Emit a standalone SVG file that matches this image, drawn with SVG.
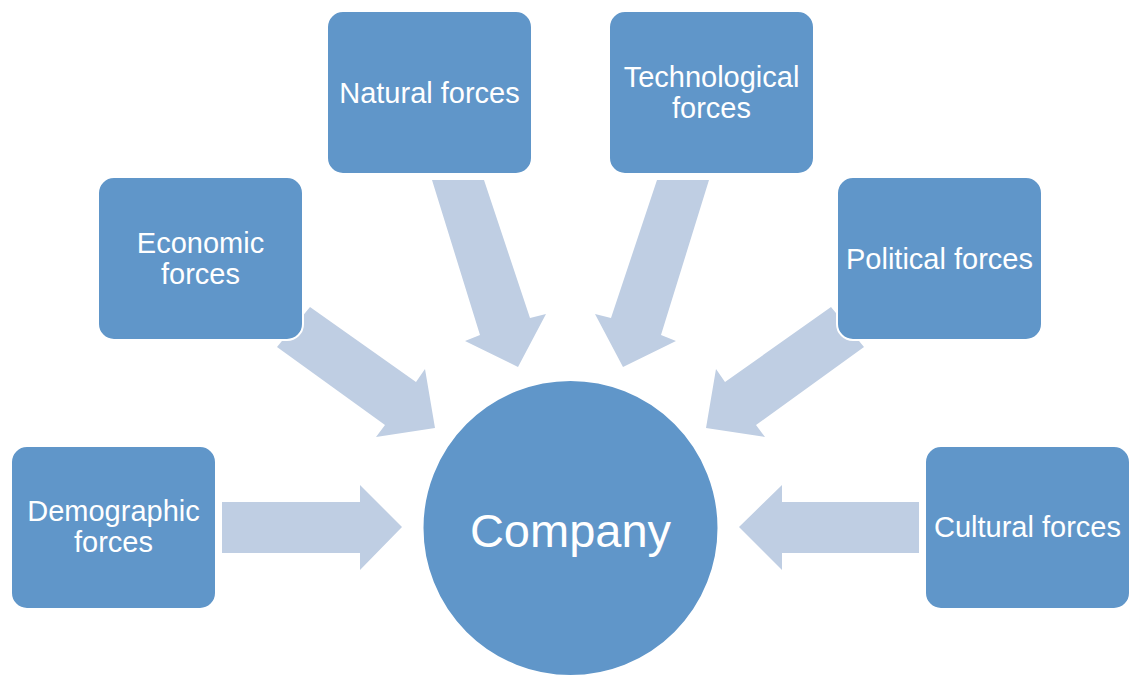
<svg xmlns="http://www.w3.org/2000/svg" width="1134" height="675" viewBox="0 0 1134 675">
  <style>
    .arrow { fill: #BFCEE3; }
    .box { fill: #6096C9; stroke: #FFFFFF; stroke-width: 2; }
    .lbl { font-family: "Liberation Sans", Arial, sans-serif; font-size: 29px; fill: #FFFFFF; text-anchor: middle; }
    .big { font-family: "Liberation Sans", Arial, sans-serif; font-size: 47px; fill: #FFFFFF; text-anchor: middle; }
  </style>
  <rect x="0" y="0" width="1134" height="675" fill="#FFFFFF"/>
  <g id="connectors">
    <polygon class="arrow" points="222,502 360,502 360,485 402,527 360,570 360,553 222,553"/>
    <polygon class="arrow" points="919,502 782,502 782,485 739,527 782,570 782,553 919,553"/>
    <polygon class="arrow" points="310,307 416,382 425,369 435,428 376,437 385,425 277,347"/>
    <polygon class="arrow" points="831,307 725,382 716,369 706,428 765,437 756,425 864,347"/>
    <polygon class="arrow" points="432,180 484,180 530,318 546,314 518,367 465,341 480,335"/>
    <polygon class="arrow" points="709,180 657,180 611,318 595,314 623,367 676,341 661,335"/>
  </g>
  <g id="company">
    <circle class="box" cx="570.5" cy="528" r="148"/>
    <text class="big" x="570.5" y="547">Company</text>
  </g>
  <g id="demographic">
    <rect class="box" x="11" y="446" width="205" height="163" rx="16"/>
    <text class="lbl" x="113.5" y="521">Demographic</text>
    <text class="lbl" x="113.5" y="552">forces</text>
  </g>
  <g id="economic">
    <rect class="box" x="98" y="177" width="205" height="163" rx="16"/>
    <text class="lbl" x="200.5" y="253">Economic</text>
    <text class="lbl" x="200.5" y="284">forces</text>
  </g>
  <g id="natural">
    <rect class="box" x="327" y="11" width="205" height="163" rx="16"/>
    <text class="lbl" x="429.5" y="103">Natural forces</text>
  </g>
  <g id="technological">
    <rect class="box" x="609" y="11" width="205" height="163" rx="16"/>
    <text class="lbl" x="711.5" y="87">Technological</text>
    <text class="lbl" x="711.5" y="118">forces</text>
  </g>
  <g id="political">
    <rect class="box" x="837" y="177" width="205" height="163" rx="16"/>
    <text class="lbl" x="939.5" y="269">Political forces</text>
  </g>
  <g id="cultural">
    <rect class="box" x="925" y="446" width="205" height="163" rx="16"/>
    <text class="lbl" x="1027.5" y="537">Cultural forces</text>
  </g>
</svg>
